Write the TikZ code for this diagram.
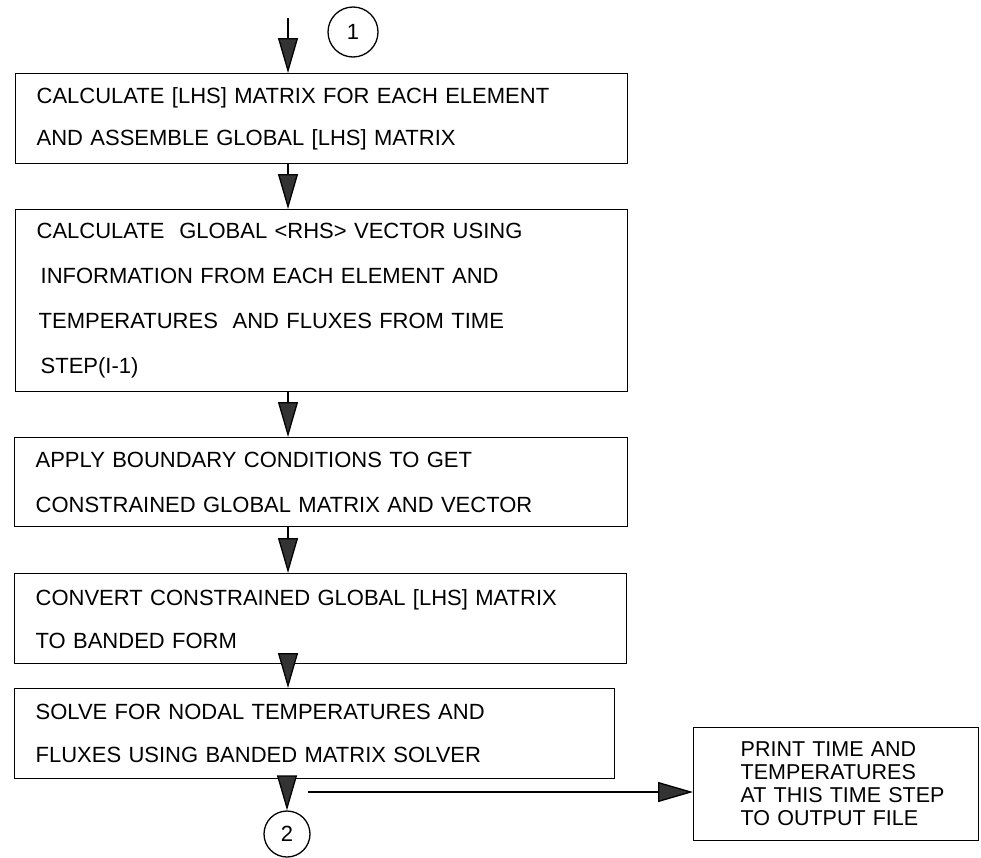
\documentclass[tikz,border=0pt]{standalone}
\usepackage{fontspec}
\setmainfont{Liberation Sans}
\usetikzlibrary{arrows.meta}
\begin{document}
\begin{tikzpicture}[x=1pt,y=-1pt,
  box/.style={draw, line width=1.3pt, anchor=north west, align=left,
    inner xsep=21pt, inner ysep=0pt},
  conn/.style={line width=1.3pt, -{Triangle[length=35pt,width=20pt,fill=black!80]}},
  circ/.style={draw, circle, line width=1.3pt, inner sep=0pt,
    font=\fontsize{22pt}{26pt}\selectfont}]
\useasboundingbox (0,0) rectangle (981,857);

\node[box, text width=570pt, minimum height=90pt,
  font=\fontsize{22pt}{42pt}\selectfont] (b1) at (15,73)
  {CALCULATE [LHS] MATRIX FOR EACH ELEMENT\\AND ASSEMBLE GLOBAL [LHS] MATRIX};
\node[box, text width=570pt, minimum height=182pt,
  font=\fontsize{22pt}{45pt}\selectfont] (b2) at (15,209)
  {CALCULATE\ \ GLOBAL <RHS> VECTOR USING\\\hspace*{4pt}INFORMATION FROM EACH ELEMENT AND\\\hspace*{2pt}TEMPERATURES\ \ AND FLUXES FROM TIME\\\hspace*{4pt}STEP(I-1)};
\node[box, text width=571pt, minimum height=89pt,
  font=\fontsize{22pt}{45pt}\selectfont] (b3) at (14,437)
  {APPLY BOUNDARY CONDITIONS TO GET\\CONSTRAINED GLOBAL MATRIX AND VECTOR};
\node[box, text width=570pt, minimum height=90pt,
  font=\fontsize{22pt}{43pt}\selectfont] (b4) at (14,573)
  {CONVERT CONSTRAINED GLOBAL [LHS] MATRIX\\TO BANDED FORM};
\node[box, text width=558pt, minimum height=90pt,
  font=\fontsize{22pt}{43pt}\selectfont] (b5) at (14,688)
  {SOLVE FOR NODAL TEMPERATURES AND\\FLUXES USING BANDED MATRIX SOLVER};
\node[box, inner xsep=0pt, text width=285pt, minimum height=113pt,
  font=\fontsize{21.5pt}{23pt}\selectfont] (p) at (693,727)
  {\hspace*{47pt}PRINT TIME AND\\\hspace*{47pt}TEMPERATURES\\\hspace*{47pt}AT THIS TIME STEP\\\hspace*{47pt}TO OUTPUT FILE};

\node[circ, minimum size=50pt] (c1) at (353,32) {1};
\node[circ, minimum size=46pt] (c2) at (287,834) {2};

\coordinate (s0) at (288,18);
\coordinate (h0) at (308,792);

\draw[conn] (s0) -- (b1.north -| s0);
\draw[conn] (b1.south -| s0) -- (b2.north -| s0);
\draw[conn] (b2.south -| s0) -- (b3.north -| s0);
\draw[conn] (b3.south -| s0) -- (b4.north -| s0);
\draw[conn] (b4.south -| s0) -- (b5.north -| s0);
\draw[conn] (b5.south -| c2) -- (c2.north);
\draw[conn] (h0) -- (h0 -| p.west);
\end{tikzpicture}
\end{document}
